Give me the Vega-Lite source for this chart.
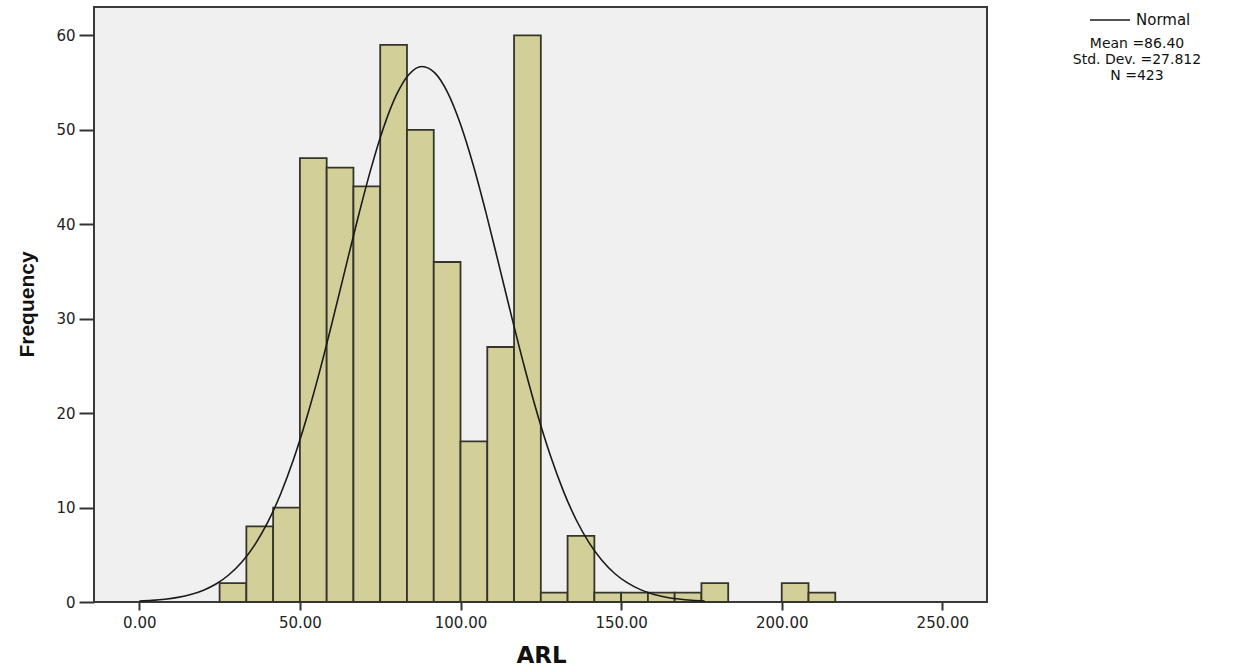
{
  "$schema": "https://vega.github.io/schema/vega-lite/v6.json",
  "width": 893,
  "height": 595,
  "autosize": {"type": "none"},
  "padding": {"left": 94, "top": 7, "right": 267, "bottom": 68},
  "background": "#ffffff",
  "config": {
    "view": {"fill": "#f0f0f0", "stroke": "#3a3a3a", "strokeWidth": 2},
    "font": "DejaVu Sans"
  },
  "datasets": {
    "bins": [
      {"bin_start": 25, "bin_end": 33.333, "count": 2},
      {"bin_start": 33.333, "bin_end": 41.667, "count": 8},
      {"bin_start": 41.667, "bin_end": 50, "count": 10},
      {"bin_start": 50, "bin_end": 58.333, "count": 47},
      {"bin_start": 58.333, "bin_end": 66.667, "count": 46},
      {"bin_start": 66.667, "bin_end": 75, "count": 44},
      {"bin_start": 75, "bin_end": 83.333, "count": 59},
      {"bin_start": 83.333, "bin_end": 91.667, "count": 50},
      {"bin_start": 91.667, "bin_end": 100, "count": 36},
      {"bin_start": 100, "bin_end": 108.333, "count": 17},
      {"bin_start": 108.333, "bin_end": 116.667, "count": 27},
      {"bin_start": 116.667, "bin_end": 125, "count": 60},
      {"bin_start": 125, "bin_end": 133.333, "count": 1},
      {"bin_start": 133.333, "bin_end": 141.667, "count": 7},
      {"bin_start": 141.667, "bin_end": 150, "count": 1},
      {"bin_start": 150, "bin_end": 158.333, "count": 1},
      {"bin_start": 158.333, "bin_end": 166.667, "count": 1},
      {"bin_start": 166.667, "bin_end": 175, "count": 1},
      {"bin_start": 175, "bin_end": 183.333, "count": 2},
      {"bin_start": 200, "bin_end": 208.333, "count": 2},
      {"bin_start": 208.333, "bin_end": 216.667, "count": 1}
    ],
    "curve": [
      {"x": 0, "y": 0.10, "series": "Normal"},
      {"x": 4, "y": 0.17, "series": "Normal"},
      {"x": 8, "y": 0.29, "series": "Normal"},
      {"x": 12, "y": 0.49, "series": "Normal"},
      {"x": 16, "y": 0.79, "series": "Normal"},
      {"x": 20, "y": 1.25, "series": "Normal"},
      {"x": 24, "y": 1.93, "series": "Normal"},
      {"x": 28, "y": 2.91, "series": "Normal"},
      {"x": 32, "y": 4.26, "series": "Normal"},
      {"x": 36, "y": 6.08, "series": "Normal"},
      {"x": 40, "y": 8.45, "series": "Normal"},
      {"x": 44, "y": 11.44, "series": "Normal"},
      {"x": 48, "y": 15.08, "series": "Normal"},
      {"x": 52, "y": 19.37, "series": "Normal"},
      {"x": 56, "y": 24.23, "series": "Normal"},
      {"x": 60, "y": 29.55, "series": "Normal"},
      {"x": 64, "y": 35.09, "series": "Normal"},
      {"x": 68, "y": 40.58, "series": "Normal"},
      {"x": 72, "y": 45.73, "series": "Normal"},
      {"x": 76, "y": 50.19, "series": "Normal"},
      {"x": 80, "y": 53.66, "series": "Normal"},
      {"x": 84, "y": 55.88, "series": "Normal"},
      {"x": 88, "y": 56.70, "series": "Normal"},
      {"x": 92, "y": 56.03, "series": "Normal"},
      {"x": 96, "y": 53.94, "series": "Normal"},
      {"x": 100, "y": 50.58, "series": "Normal"},
      {"x": 104, "y": 46.21, "series": "Normal"},
      {"x": 108, "y": 41.12, "series": "Normal"},
      {"x": 112, "y": 35.64, "series": "Normal"},
      {"x": 116, "y": 30.09, "series": "Normal"},
      {"x": 120, "y": 24.75, "series": "Normal"},
      {"x": 124, "y": 19.83, "series": "Normal"},
      {"x": 128, "y": 15.48, "series": "Normal"},
      {"x": 132, "y": 11.77, "series": "Normal"},
      {"x": 136, "y": 8.71, "series": "Normal"},
      {"x": 140, "y": 6.29, "series": "Normal"},
      {"x": 144, "y": 4.42, "series": "Normal"},
      {"x": 148, "y": 3.02, "series": "Normal"},
      {"x": 152, "y": 2.02, "series": "Normal"},
      {"x": 156, "y": 1.31, "series": "Normal"},
      {"x": 160, "y": 0.83, "series": "Normal"},
      {"x": 164, "y": 0.51, "series": "Normal"},
      {"x": 168, "y": 0.31, "series": "Normal"},
      {"x": 172, "y": 0.18, "series": "Normal"},
      {"x": 176, "y": 0.10, "series": "Normal"}
    ]
  },
  "layer": [
    {
      "data": {"name": "bins"},
      "mark": {"type": "bar", "fill": "#d3cf98", "stroke": "#35352c", "strokeWidth": 1.8},
      "encoding": {
        "x": {
          "field": "bin_start",
          "type": "quantitative",
          "scale": {"domain": [-14.1, 263.9], "nice": false, "zero": false},
          "axis": {
            "values": [0, 50, 100, 150, 200, 250],
            "format": ".2f",
            "title": "ARL",
            "grid": false,
            "domain": false,
            "tickSize": 8,
            "tickWidth": 2,
            "tickColor": "#333333",
            "labelFont": "DejaVu Sans",
            "labelFontSize": 15,
            "labelColor": "#222222",
            "labelPadding": 5,
            "titleFont": "DejaVu Sans",
            "titleFontSize": 23,
            "titleFontWeight": "bold",
            "titleColor": "#111111",
            "titleX": 447,
            "titleY": 60,
            "titleBaseline": "alphabetic"
          }
        },
        "x2": {"field": "bin_end"},
        "y": {
          "field": "count",
          "type": "quantitative",
          "scale": {"domain": [0, 63], "nice": false},
          "axis": {
            "values": [0, 10, 20, 30, 40, 50, 60],
            "title": "Frequency",
            "grid": false,
            "domain": false,
            "tickSize": 15,
            "tickWidth": 2,
            "tickColor": "#333333",
            "labelFont": "DejaVu Sans",
            "labelFontSize": 15,
            "labelColor": "#222222",
            "labelPadding": 4,
            "titleFont": "Liberation Sans",
            "titleFontSize": 21,
            "titleFontWeight": "bold",
            "titleColor": "#111111",
            "titleX": -61,
            "titleY": 297,
            "titleBaseline": "alphabetic"
          }
        },
        "y2": {"datum": 0}
      }
    },
    {
      "data": {"name": "curve"},
      "mark": {"type": "line", "strokeWidth": 1.6, "interpolate": "monotone"},
      "encoding": {
        "x": {"field": "x", "type": "quantitative"},
        "y": {"field": "y", "type": "quantitative"},
        "color": {
          "field": "series",
          "type": "nominal",
          "scale": {"range": ["#1a1a1a"]},
          "legend": {
            "orient": "none",
            "legendX": 979,
            "legendY": -8,
            "symbolType": "stroke",
            "symbolSize": 1600,
            "symbolStrokeWidth": 1.5,
            "symbolOffset": 5,
            "labelFont": "DejaVu Sans",
            "labelFontSize": 15,
            "labelColor": "#111111",
            "labelOffset": 5,
            "title": ["Mean =86.40", "Std. Dev. =27.812", "N =423"],
            "titleOrient": "bottom",
            "titleAnchor": "middle",
            "titleAlign": "center",
            "titleFont": "DejaVu Sans",
            "titleFontSize": 14,
            "titleFontWeight": "normal",
            "titleColor": "#111111",
            "titleLineHeight": 16,
            "titlePadding": 9,
            "titleLimit": 400
          }
        }
      }
    }
  ]
}
